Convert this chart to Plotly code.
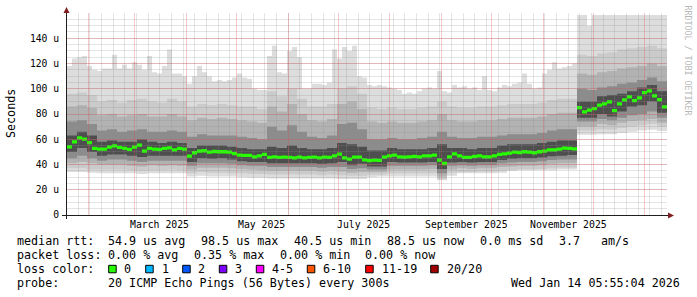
import plotly.graph_objects as go
from datetime import datetime, timedelta

# ---------------- data ----------------
START = datetime(2025, 1, 19, 5, 55, 4)
END = datetime(2026, 1, 14, 5, 55, 4)

day_fine = list(range(0, 361, 3))     # days after START
day_coarse = list(range(0, 361, 6))

median_rtt = [
    54.0, 58.0, 61.1, 60.1, 57.4, 52.7, 52.2, 52.2, 53.8, 54.8,
    53.5, 52.7, 51.9, 53.8, 55.3, 50.6, 52.7, 52.2, 51.9, 52.7,
    53.2, 51.6, 52.7, 52.2, 46.6, 49.3, 50.6, 50.9, 49.8, 50.3,
    50.1, 50.1, 49.8, 48.7, 47.4, 47.2, 47.2, 46.1, 46.9, 48.0,
    45.6, 46.1, 45.6, 45.8, 45.6, 45.3, 45.8, 45.3, 45.6, 45.8,
    45.3, 45.8, 45.6, 46.9, 48.2, 45.3, 44.3, 45.8, 45.8, 43.7,
    43.0, 43.5, 43.2, 45.8, 46.9, 47.4, 46.1, 45.8, 46.1, 46.4,
    46.1, 46.9, 46.9, 47.4, 43.5, 40.8, 46.1, 48.5, 46.9, 45.6,
    45.6, 46.4, 46.9, 46.1, 46.1, 46.9, 48.0, 48.5, 49.0, 49.8,
    49.5, 50.1, 49.8, 49.3, 50.1, 50.6, 51.6, 51.6, 52.2, 53.0,
    52.7, 52.4, 85.0, 81.7, 83.0, 84.3, 87.0, 88.0, 89.6, 82.7,
    88.0, 91.2, 93.5, 90.6, 92.8, 97.0, 98.3, 94.3, 91.4, 85.6,
    88.5]

smoke_top = [
    118, 124, 125, 126, 118, 115, 114, 116, 116, 127,
    116, 119, 116, 121, 119, 115, 126, 113, 112, 118,
    131, 112, 112, 110, 104, 110, 118, 113, 110, 106,
    107, 106, 107, 109, 112, 109, 108, 100, 99, 99,
    126, 134, 113, 112, 130, 133, 125, 100, 100, 104,
    104, 103, 105, 131, 124, 133, 130, 134, 110, 109,
    103, 102, 103, 102, 101, 100, 99, 96, 97, 96,
    98, 100, 101, 100, 114, 98, 97, 103, 101, 102,
    100, 101, 99, 110, 99, 98, 101, 103, 102, 104,
    105, 112, 104, 100, 101, 112, 115, 121, 116, 117,
    118, 120, 158.5, 158.5, 150, 158.5, 158.5, 158.5, 158.5, 158.5,
    158.5, 158.5, 158.5, 158.5, 158.5, 158.5, 158.5, 158.5, 158.5, 158.5,
    158.5]

smoke_bottom = [
    34, 34, 33.5, 33, 33, 33, 33, 32.5, 33, 33,
    33, 33, 30.5, 31, 30.5, 30.5, 30.5, 30, 29.5, 29.5,
    29, 29, 29, 29, 29, 29, 29, 28.5, 28.5, 28.5,
    30, 30.5, 30.5, 30.5, 30.5, 30.5, 30.5, 27.5, 31, 33,
    33, 33, 33, 33.5, 35, 35.5, 35.5, 35.5, 35.5, 36,
    36, 63.5, 63.5, 64, 64, 65, 66, 67, 67.5, 66.5,
    66.5]

band2_top = [96, 97, 95, 90, 91, 89, 91, 92, 90, 89,
             92, 90, 86, 88, 87, 88, 87, 86, 86, 84,
             98, 94, 100, 92, 86, 86, 88, 100, 102, 96,
             85, 84, 85, 84, 84, 85, 86, 90, 86, 85,
             85, 86, 86, 87, 88, 88, 88, 89, 91, 92,
             92, 127, 126, 128, 129, 131, 132, 133, 134, 132,
             131]
band3_top = [86, 87, 85, 79, 80, 78, 79, 80, 78, 78,
             80, 78, 75, 77, 76, 77, 76, 75, 74, 73,
             86, 82, 88, 80, 75, 74, 76, 88, 90, 84,
             74, 73, 74, 73, 73, 74, 75, 80, 75, 74,
             74, 75, 75, 76, 77, 77, 77, 78, 80, 81,
             81, 112, 111, 113, 114, 116, 117, 118, 120, 118,
             117]
band4_top = [74, 75, 72, 67, 68, 66, 67, 68, 66, 66,
             67, 66, 62, 64, 63, 63, 63, 62, 61, 60,
             70, 67, 71, 66, 62, 61, 63, 72, 73, 68,
             60, 60, 61, 60, 60, 61, 62, 66, 62, 61,
             61, 62, 62, 63, 64, 64, 64, 65, 67, 68,
             68, 100, 99, 101, 102, 104, 105, 107, 109, 106,
             105]
band5_top = [63, 66, 63, 58, 59, 58, 58, 60, 58, 57,
             58, 57, 53, 55, 55, 55, 54, 53, 52, 52,
             54, 53, 55, 53, 52, 52, 53, 57, 56, 54,
             51, 51, 53, 52, 52, 52, 53, 56, 53, 53,
             52, 53, 53, 55, 56, 56, 56, 57, 58, 59,
             59, 90, 90, 94, 95, 96, 98, 101, 103, 98,
             95]
band5_bottom = [50, 53, 50, 47, 48, 48, 47, 46, 47, 47,
                47, 47, 42, 45, 44.5, 45, 44, 42.5, 42, 42,
                41, 41, 41, 41, 41, 40.5, 41, 42, 39.5, 40.5,
                38.5, 38.5, 42, 41.5, 41.5, 41.5, 42, 36.5, 41.5, 42,
                41.5, 42, 42, 43.5, 44.5, 45, 45, 45.5, 46.5, 47,
                47.5, 77, 77, 80, 78, 82, 86, 87, 90, 81,
                82]
band4_bottom = [45, 47, 45, 43, 44, 44, 43, 42, 43, 43,
                43, 43, 39, 41, 41, 41, 40.5, 39.5, 39, 39,
                38, 38, 38, 38, 38, 37.5, 38, 38, 36.5, 37,
                36, 36, 39, 39, 39, 39, 39.5, 33, 39, 39.5,
                39, 39.5, 39.5, 41, 41.5, 42, 42, 42.5, 43.5, 44,
                44, 74, 74, 76, 75, 77, 79, 80, 82, 77,
                78]
band3_bottom = [41, 42, 41, 40, 40, 40, 39, 38.5, 39.5, 39,
                39.5, 39, 36, 37.5, 37.5, 37.5, 37, 36.5, 36, 35.5,
                35, 35, 35, 35, 35, 34.5, 35, 34.5, 33.5, 34,
                34, 34, 36, 36, 36, 36, 36.5, 30.5, 36, 37,
                36.5, 37, 37, 38, 38.5, 39, 39, 39.5, 40.5, 41,
                41, 70, 70, 72, 71, 73, 74.5, 75, 76, 73,
                74]
band2_bottom = [37, 37, 36, 36, 36, 36, 35.5, 35, 35.5, 35.5,
                36, 35.5, 33, 34, 33.5, 33.5, 33, 33, 32.5, 32.5,
                32, 32, 32, 32, 32, 31.5, 32, 31.5, 31, 31,
                32, 32, 33, 33, 33, 33, 33, 28.5, 33.5, 34,
                34, 34.5, 34.5, 35, 35.5, 36, 36, 36.5, 37, 37.5,
                37.5, 67, 67, 68, 67.5, 69, 70, 71, 72, 70,
                70]

y_tick_vals = [0, 20, 40, 60, 80, 100, 120, 140]
y_tick_text = ['0', '20 u', '40 u', '60 u', '80 u', '100 u', '120 u', '140 u']

month_label_text = ['March 2025', 'May 2025', 'July 2025', 'September 2025', 'November 2025']
month_label_dates = ['2025-03-16', '2025-05-16', '2025-07-16', '2025-09-16', '2025-11-16']
month_grid_dates = ['2025-02-01', '2025-03-01', '2025-04-01', '2025-05-01', '2025-06-01',
                    '2025-07-01', '2025-08-01', '2025-09-01', '2025-10-01', '2025-11-01',
                    '2025-12-01', '2026-01-01']

rtt_items = ['median rtt:', '54.9 us avg', '98.5 us max', '40.5 us min', '88.5 us now',
             '0.0 ms sd', '3.7', 'am/s']
loss_items = ['packet loss:', '0.00 % avg', '0.35 % max', '0.00 % min', '0.00 % now']
loss_labels = ['0', '1', '2', '3', '4-5', '6-10', '11-19', '20/20']
loss_colors = ['#26ff00', '#00b8ff', '#0059ff', '#7e00ff', '#ff00ff', '#ff5500', '#ff0000', '#a10000']
probe_items = ['probe:', '20 ICMP Echo Pings (56 Bytes) every 300s']
stamp_text = 'Wed Jan 14 05:55:04 2026'

# ---------------- geometry / styles ----------------
W, H = 697, 297
PL, PR, PT, PB = 67, 30, 13, 82
PW = W - PL - PR
PH = H - PT - PB
FONT = 'DejaVu Sans Mono'
MGRID = 'rgba(222,79,79,0.3)'
GRID = 'rgba(143,143,143,0.24)'
ARROW = 'rgb(128,31,31)'
band_colors = ['#dddddd', '#cbcbcb', '#b2b2b2', '#8c8c8c', '#4e4e4e']
WEEK_MS = 7 * 24 * 3600 * 1000


def xp(px):
    return (px - PL) / PW


def yp(py):
    return (PT + PH - py) / PH


t_fine = [START + timedelta(days=d) for d in day_fine]
t_coarse = [START + timedelta(days=d) for d in day_coarse]

fig = go.Figure()


def add_band(xlo, lo, xhi, hi, color):
    fig.add_trace(go.Scatter(x=xlo, y=lo, mode='lines', line=dict(width=0, shape='hv'),
                             hoverinfo='skip', showlegend=False))
    fig.add_trace(go.Scatter(x=xhi, y=hi, mode='lines', line=dict(width=0, shape='hv'),
                             fill='tonexty', fillcolor=color, hoverinfo='skip', showlegend=False))


add_band(t_coarse, smoke_bottom, t_fine, smoke_top, band_colors[0])
add_band(t_coarse, band2_bottom, t_coarse, band2_top, band_colors[1])
add_band(t_coarse, band3_bottom, t_coarse, band3_top, band_colors[2])
add_band(t_coarse, band4_bottom, t_coarse, band4_top, band_colors[3])
add_band(t_coarse, band5_bottom, t_coarse, band5_top, band_colors[4])
half = 1.3
add_band(t_fine, [m - half for m in median_rtt], t_fine, [m + half for m in median_rtt], loss_colors[0])

# empty trace on an overlapping subplot whose grid is drawn above the smoke (rrdtool style)
fig.add_trace(go.Scatter(x=[], y=[], xaxis='x2', yaxis='y2', hoverinfo='skip', showlegend=False))

shapes = []
# axes and arrows
shapes.append(dict(type='line', xref='paper', yref='paper', x0=xp(62), x1=xp(669), y0=yp(215.5), y1=yp(215.5),
                   line=dict(color='rgb(31,31,31)', width=1), layer='above'))
shapes.append(dict(type='line', xref='paper', yref='paper', x0=xp(66.5), x1=xp(66.5), y0=yp(219), y1=yp(11),
                   line=dict(color='rgb(31,31,31)', width=1), layer='above'))
shapes.append(dict(type='path', xref='paper', yref='paper',
                   path=f'M {xp(668)},{yp(212.5)} L {xp(674)},{yp(215.5)} L {xp(668)},{yp(218.5)} Z',
                   fillcolor=ARROW, line=dict(width=0), layer='above'))
shapes.append(dict(type='path', xref='paper', yref='paper',
                   path=f'M {xp(63.5)},{yp(13)} L {xp(66.5)},{yp(7)} L {xp(69.5)},{yp(13)} Z',
                   fillcolor=ARROW, line=dict(width=0), layer='above'))

# loss colour boxes
box_left = [108.7, 145.7, 182.7, 219.3, 256.3, 307.3, 365.7, 430.7]
label_left = [123.3, 161, 197.3, 234.3, 270.7, 321.7, 380.7, 446]
for bl, c in zip(box_left, loss_colors):
    shapes.append(dict(type='rect', xref='paper', yref='paper', x0=xp(bl), x1=xp(bl + 7.5),
                       y0=yp(272.8), y1=yp(265.3), fillcolor=c, line=dict(color='black', width=1)))

ann = []


def text(px, py, s, size=11.7, anchor='left', **kw):
    ann.append(dict(x=xp(px), y=yp(py), xref='paper', yref='paper', text=s, showarrow=False,
                    xanchor=anchor, yanchor='middle', borderpad=0,
                    font=dict(family=FONT, size=size, color=kw.pop('color', 'black')), **kw))


for d, s in zip(month_label_dates, month_label_text):
    ann.append(dict(x=d, y=yp(224.5), xref='x', yref='paper', text=s, showarrow=False,
                    xanchor='center', yanchor='middle', borderpad=0,
                    font=dict(family=FONT, size=9.8, color='black')))

rtt_x = [16, 107.3, 200, 293.3, 385.7, 479.3, 558.3, 600]
for px, s in zip(rtt_x, rtt_items):
    text(px, 241.3, s)
loss_x = [16, 107.3, 193.3, 279.3, 364.3]
for px, s in zip(loss_x, loss_items):
    text(px, 255.0, s)
text(16, 268.8, 'loss color:')
for px, s in zip(label_left, loss_labels):
    text(px, 268.8, s)
text(16, 282.5, probe_items[0])
text(107.3, 282.5, probe_items[1])
text(681, 282.5, stamp_text, anchor='right')

text(11, 114, 'Seconds', anchor='center', textangle=-90)
text(687.5, 60, 'RRDTOOL / TOBI OETIKER', size=8.3, anchor='center', textangle=90, color='#b8b8b8')

fig.update_layout(
    width=W, height=H,
    margin=dict(l=PL, r=PR, t=PT, b=PB, pad=0, autoexpand=False),
    paper_bgcolor='white', plot_bgcolor='rgba(0,0,0,0)', showlegend=False,
    font=dict(family=FONT, size=9.7, color='black'),
    xaxis=dict(type='date', range=[START, END], showgrid=False, zeroline=False, showline=False,
               showticklabels=False, ticks='', fixedrange=True),
    yaxis=dict(range=[0, 160], tickmode='array', tickvals=y_tick_vals, ticktext=y_tick_text,
               showgrid=False, zeroline=False, showline=False, ticks='outside', ticklen=5,
               tickcolor='rgba(0,0,0,0)', tickfont=dict(family=FONT, size=9.7, color='black'),
               fixedrange=True),
    xaxis2=dict(type='date', range=[START, END], domain=[0, 1], anchor='y2',
                tickmode='array', tickvals=month_grid_dates, showticklabels=False, ticks='',
                showgrid=True, gridcolor=MGRID, gridwidth=1,
                minor=dict(tick0='2025-01-19', dtick=WEEK_MS, showgrid=True, gridcolor=GRID,
                           gridwidth=1, ticks=''),
                zeroline=False, showline=False, fixedrange=True),
    yaxis2=dict(range=[0, 160], domain=[0, 1], anchor='x2',
                tickmode='array', tickvals=y_tick_vals[1:], showticklabels=False, ticks='',
                showgrid=True, gridcolor=MGRID, gridwidth=1,
                minor=dict(dtick=5, tick0=0, showgrid=True, gridcolor=GRID,
                           gridwidth=1, ticks=''),
                zeroline=False, showline=False, fixedrange=True),
    shapes=shapes, annotations=ann,
)

fig.write_html('out.html')
